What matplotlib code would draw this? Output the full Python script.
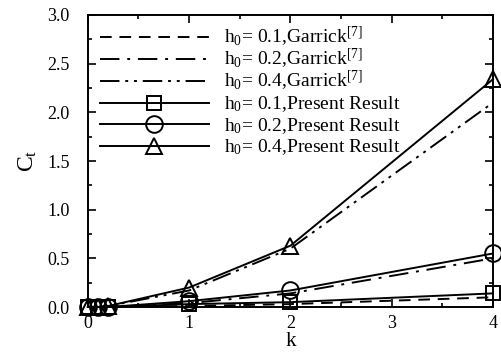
import matplotlib
matplotlib.use('Agg')
import matplotlib.pyplot as plt
import numpy as np

plt.rcParams['font.family'] = 'Liberation Serif'
plt.rcParams['mathtext.fontset'] = 'custom'
plt.rcParams['mathtext.rm'] = 'Liberation Serif'
plt.rcParams['mathtext.it'] = 'Liberation Serif:italic'

# reduced frequency
k = [0, 0.1, 0.2, 1, 2, 4]

# Garrick theory
garrick_01 = [0, 0.0, 0.0, 0.01, 0.03, 0.10]
garrick_02 = [0, 0.0, 0.0, 0.04, 0.14, 0.50]
garrick_04 = [0, 0.0, 0.01, 0.17, 0.60, 2.10]

# present results
present_01 = [0, 0.0, 0.0, 0.03, 0.05, 0.14]
present_02 = [0, 0.0, 0.0, 0.06, 0.17, 0.55]
present_04 = [0, 0.0, 0.01, 0.20, 0.63, 2.34]

fig = plt.figure(figsize=(5.02, 3.57), dpi=100)
ax = fig.add_axes([0.175, 0.14, 0.807, 0.818])

lw = 1.4
g1, = ax.plot(k, garrick_01, color='k', lw=lw, dashes=(6, 4),
              label='h$_0$= 0.1,Garrick$^{[7]}$')
g2, = ax.plot(k, garrick_02, color='k', lw=lw, dashes=(10, 4, 1.5, 4),
              label='h$_0$= 0.2,Garrick$^{[7]}$')
g3, = ax.plot(k, garrick_04, color='k', lw=lw, dashes=(10, 3, 1.5, 3, 1.5, 3),
              label='h$_0$= 0.4,Garrick$^{[7]}$')

p1, = ax.plot(k, present_01, color='k', lw=lw, marker='s', ms=10, mfc='none',
              mew=1.4, clip_on=False, label='h$_0$= 0.1,Present Result')
p2, = ax.plot(k, present_02, color='k', lw=lw, marker='o', ms=12, mfc='none',
              mew=1.4, clip_on=False, label='h$_0$= 0.2,Present Result')
p3, = ax.plot(k, present_04, color='k', lw=lw, marker='^', ms=11, mfc='none',
              mew=1.4, clip_on=False, label='h$_0$= 0.4,Present Result')

ax.set_xlim(0, 4)
ax.set_ylim(0, 3)
ax.set_xticks([0, 1, 2, 3, 4])
ax.set_xticks(np.arange(0, 4.01, 0.5), minor=True)
ax.set_yticks(np.arange(0, 3.01, 0.5))
ax.set_yticks(np.arange(0, 3.01, 0.25), minor=True)
ax.set_yticklabels(['0.0', '0.5', '1.0', '1.5', '2.0', '2.5', '3.0'])
ax.tick_params(which='both', direction='in', top=True, right=True,
               labelsize=13, width=1.2)
ax.tick_params(which='major', length=6)
ax.tick_params(which='minor', length=3)
ax.tick_params(axis='y', which='major', pad=13)
ax.tick_params(axis='x', which='major', pad=6)
for s in ax.spines.values():
    s.set_linewidth(1.4)

ax.set_xlabel('k', fontsize=15, labelpad=0)
ax.set_ylabel('C$_\\mathrm{t}$', fontsize=17, labelpad=6)

leg_kw = dict(loc='upper left', frameon=False, fontsize=14, handlelength=5.6,
              handletextpad=0.8, numpoints=1, borderaxespad=0, borderpad=0)
leg1 = ax.legend(handles=[g1, g2, g3], bbox_to_anchor=(0.03, 0.965),
                 labelspacing=-0.1, **leg_kw)
ax.add_artist(leg1)
ax.legend(handles=[p1, p2, p3], bbox_to_anchor=(0.03, 0.728),
          labelspacing=0.09, **leg_kw)

fig.savefig('out.png', dpi=100)
